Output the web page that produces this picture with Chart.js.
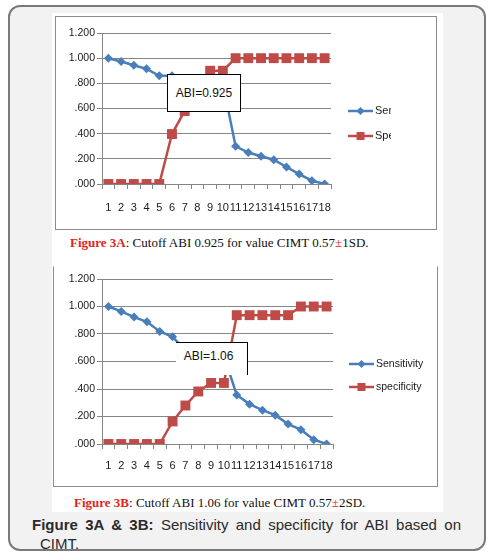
<!DOCTYPE html>
<html>
<head>
<meta charset="utf-8">
<script src="https://cdn.jsdelivr.net/npm/chart.js@4.4.0/dist/chart.umd.min.js"></script>
<style>
  html, body { margin: 0; padding: 0; background: #fff; }
  body { width: 497px; height: 556px; position: relative; overflow: hidden; }
  .frame {
    position: absolute; left: 8px; top: 5px; width: 474px; height: 542px;
    background: #f2f2f2; border: 2px solid #7a7a7a; border-radius: 12px; overflow: hidden;
  }
  .panel { position: absolute; left: 52px; top: 13px; width: 391px; height: 499px; background: #fff; }
  .box { position: absolute; border: 1px solid #8c8c8c; background: #fff; }
  .wrap { position: absolute; }
  .cap {
    position: absolute; font-family: "Liberation Serif", "DejaVu Serif", serif;
    font-size: 13px; color: #111; white-space: nowrap;
  }
  .cap b { color: #e3231b; }
  .cap .pm { color: #e3231b; }
  .abi {
    position: absolute; background: #fff; font-family: "Liberation Sans", Arial, sans-serif;
    font-size: 12px; color: #111; box-sizing: border-box; text-align: center;
  }
  .fig {
    position: absolute; left: 22px; top: 508px; width: 421px;
    font-family: "Liberation Sans", Arial, sans-serif; font-size: 15px; line-height: 19px;
    color: #2a2a2a; text-align: justify; padding-left: 8px; text-indent: -8px;
  }
</style>
</head>
<body>
<div class="frame">
  <div class="fig"><b>Figure 3A &amp; 3B:</b> Sensitivity and specificity for ABI based on CIMT.</div>
</div>
<div class="panel"></div>

<div class="box" style="left:55px;top:16px;width:380px;height:212px;"></div>
<div class="wrap" style="left:56px;top:17px;width:380px;height:212px;"><canvas id="chart-a"></canvas></div>
<div class="abi" style="left:167px;top:74px;width:74px;height:38px;border:1px solid #000;line-height:36px;">ABI=0.925</div>
<div class="cap" style="left:70px;top:235px;"><b>Figure 3A</b>: Cutoff ABI 0.925 for value CIMT 0.57<span class="pm">±</span>1SD.</div>

<div class="box" style="left:53px;top:266px;width:383px;height:219px;border-top-color:#fff;"></div>
<div class="wrap" style="left:54px;top:267px;width:382px;height:218px;"><canvas id="chart-b"></canvas></div>
<div class="abi" style="left:176px;top:342px;width:72px;height:33px;border-top:1px solid #000;border-right:1px solid #000;line-height:26px;padding-right:6px;">ABI=1.06</div>
<div class="cap" style="left:74px;top:495px;"><b>Figure 3B</b>: Cutoff ABI 1.06 for value CIMT 0.57<span class="pm">±</span>2SD.</div>

<script>
// ── Data ────────────────────────────────────────────────────────────────────
const CATEGORIES = ["1", "2", "3", "4", "5", "6", "7", "8", "9", "10",
  "11", "12", "13", "14", "15", "16", "17", "18"];

// Figure 3A (CIMT 0.57 ±1SD)
const SENS_A = [1.0, 0.974, 0.944, 0.915, 0.86, 0.86, 0.84, 0.83, 0.815, 0.80,
  0.30, 0.25, 0.22, 0.193, 0.135, 0.079, 0.026, 0.0];
const SPEC_A = [0, 0, 0, 0, 0, 0.397, 0.58, 0.72, 0.90, 0.90,
  1.0, 1.0, 1.0, 1.0, 1.0, 1.0, 1.0, 1.0];

// Figure 3B (CIMT 0.57 ±2SD)
const SENS_B = [1.0, 0.964, 0.923, 0.889, 0.819, 0.78, 0.68, 0.67, 0.655, 0.64,
  0.357, 0.29, 0.246, 0.21, 0.145, 0.104, 0.031, 0.0];
const SPEC_B = [0, 0, 0, 0, 0, 0.164, 0.28, 0.382, 0.444, 0.444,
  0.937, 0.937, 0.937, 0.937, 0.937, 1.0, 1.0, 1.0];

const Y_TICKS = [0, 0.2, 0.4, 0.6, 0.8, 1.0, 1.2];

const COLORS = {
  blue: "#4a7ebb",
  red: "#be4b48",
  grid: "#868686",
  text: "#1a1a1a",
};
const FONT = "'Liberation Sans', Arial, sans-serif";

// ── Legend drawn at a fixed spot, like the Excel one ───────────────────────
const sideLegend = {
  id: "sideLegend",
  afterDraw(chart, args, opts) {
    const ctx = chart.ctx;
    ctx.save();
    chart.data.datasets.forEach((ds, i) => {
      const y = opts.y + i * opts.gap;
      ctx.strokeStyle = ds.borderColor;
      ctx.fillStyle = ds.borderColor;
      ctx.lineWidth = 2.5;
      ctx.beginPath();
      ctx.moveTo(opts.x, y);
      ctx.lineTo(opts.x + 25, y);
      ctx.stroke();
      const cx = opts.x + 12.5;
      ctx.beginPath();
      if (ds.pointStyle === "rectRot") {
        ctx.moveTo(cx, y - 4);
        ctx.lineTo(cx + 4, y);
        ctx.lineTo(cx, y + 4);
        ctx.lineTo(cx - 4, y);
      } else {
        ctx.rect(cx - 4, y - 4, 8, 8);
      }
      ctx.fill();
      ctx.save();
      ctx.beginPath();
      ctx.rect(opts.x + 26, y - 10, opts.clip, 20);
      ctx.clip();
      ctx.fillStyle = COLORS.text;
      ctx.font = opts.font;
      ctx.textBaseline = "middle";
      ctx.fillText(ds.label, opts.x + 27, y);
      ctx.restore();
    });
    ctx.restore();
  },
};

const fmtTick = (v) => {
  const s = v.toFixed(3);
  return v < 1 ? s.slice(1) : s;
};

function makeChart(id, sens, spec, geo) {
  return new Chart(document.getElementById(id), {
    type: "line",
    data: {
      labels: CATEGORIES,
      datasets: [
        {
          label: geo.labels[0],
          data: sens,
          borderColor: COLORS.blue,
          backgroundColor: COLORS.blue,
          borderWidth: 2.5,
          pointStyle: "rectRot",
          pointRadius: 4.5,
          pointBorderWidth: 0,
          tension: 0,
        },
        {
          label: geo.labels[1],
          data: spec,
          borderColor: COLORS.red,
          backgroundColor: COLORS.red,
          borderWidth: 2.5,
          pointStyle: "rect",
          pointRadius: 7,
          pointBorderWidth: 0,
          tension: 0,
        },
      ],
    },
    options: {
      responsive: true,
      maintainAspectRatio: false,
      animation: false,
      layout: { padding: { left: 0, right: geo.right, top: geo.top, bottom: 0 } },
      plugins: {
        legend: { display: false },
        tooltip: { enabled: false },
        sideLegend: geo.legend,
      },
      scales: {
        x: {
          offset: true,
          grid: { offset: true, drawOnChartArea: false, tickLength: 5, color: COLORS.grid },
          border: { color: COLORS.grid },
          ticks: {
            autoSkip: false, maxRotation: 0, padding: geo.xPad,
            color: COLORS.text, font: { family: FONT, size: 11 },
          },
          afterFit: (s) => { s.height = geo.xHeight; },
        },
        y: {
          min: 0,
          max: 1.2,
          afterBuildTicks: (s) => { s.ticks = Y_TICKS.map((v) => ({ value: v })); },
          grid: { color: COLORS.grid, tickLength: 5 },
          border: { color: COLORS.grid },
          ticks: {
            callback: fmtTick, padding: 2,
            color: COLORS.text, font: { family: FONT, size: 10.5 },
          },
          afterFit: (s) => { s.width = geo.yWidth; },
        },
      },
    },
    plugins: [sideLegend],
  });
}

makeChart("chart-a", SENS_A, SPEC_A, {
  labels: ["Sensitivity", "Specificity"],
  right: 105, top: 16, yWidth: 46, xHeight: 45, xPad: 12,
  legend: { x: 292, y: 94, gap: 25, clip: 17, font: "11px " + FONT },
});

makeChart("chart-b", SENS_B, SPEC_B, {
  labels: ["Sensitivity", "specificity"],
  right: 103, top: 12, yWidth: 48, xHeight: 41, xPad: 10,
  legend: { x: 295, y: 97, gap: 23, clip: 60, font: "10.5px " + FONT },
});
</script>
</body>
</html>
